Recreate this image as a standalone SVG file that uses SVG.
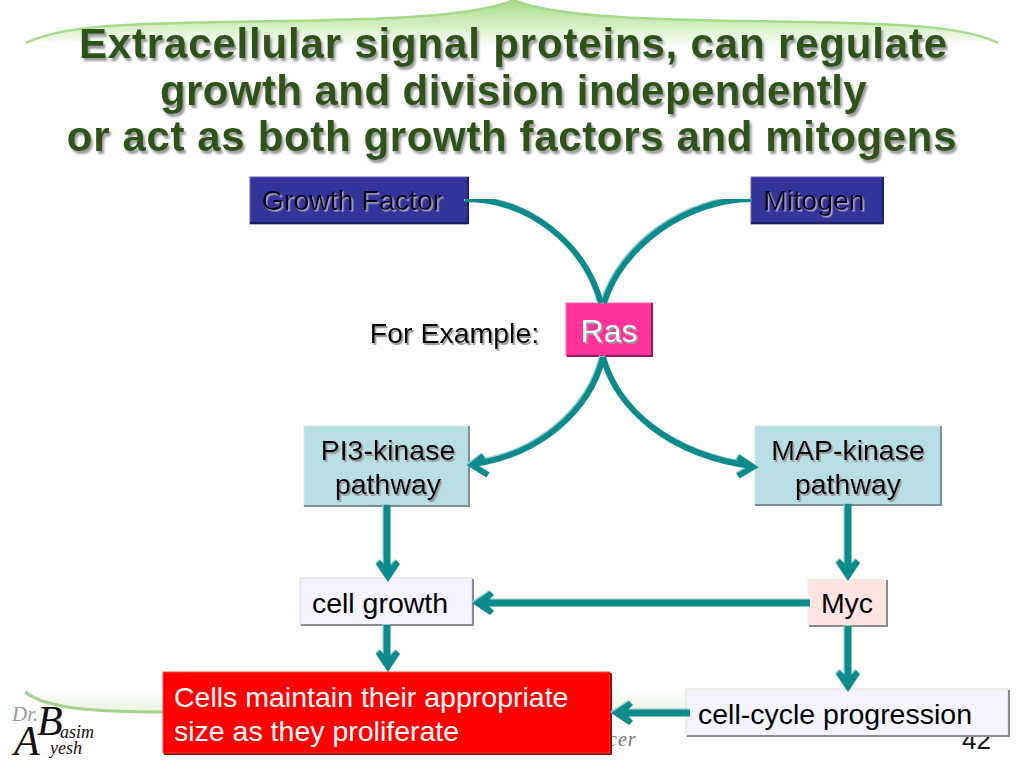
<svg xmlns="http://www.w3.org/2000/svg" width="1024" height="768" viewBox="0 0 1024 768">
<style>
text{font-family:"Liberation Sans",Arial,sans-serif}
.title{font-size:42px;font-weight:bold;fill:#2f5218;text-anchor:middle;filter:url(#ts)}
.lbl{font-size:28.5px;fill:#000;text-anchor:middle}
.sh{filter:url(#ts2)}
.dk{fill:#000018;filter:url(#ts3)}
.c{fill:none;stroke:#0d8a8c;stroke-width:6}
.c2{fill:none;stroke:#0d8a8c;stroke-width:7}
.ah{fill:none;stroke:#0d8a8c;stroke-width:6}
.so{font-family:"Liberation Serif",serif;font-style:italic;fill:#111}
#connectors{filter:url(#cs)}
</style>
<defs>
<filter id="ts" x="-5%" y="-20%" width="110%" height="140%"><feDropShadow dx="2" dy="3" stdDeviation="1" flood-color="#9a9a9a"/></filter>
<filter id="ts2" x="-10%" y="-20%" width="120%" height="140%"><feDropShadow dx="1.5" dy="2" stdDeviation="0.7" flood-color="#999"/></filter>
<filter id="ts3" x="-10%" y="-20%" width="120%" height="140%"><feDropShadow dx="1.5" dy="1.5" stdDeviation="0.3" flood-color="#a8a8c8"/></filter>
<filter id="cs" x="0" y="0" width="100%" height="100%"><feDropShadow dx="-1" dy="-1" stdDeviation="0.5" flood-color="#8fcfd0"/></filter>
<linearGradient id="g1" x1="0" y1="0" x2="0" y2="1"><stop offset="0" stop-color="#a6dc84"/><stop offset="1" stop-color="#ffffff"/></linearGradient>
<linearGradient id="g2" x1="0" y1="0" x2="0" y2="1"><stop offset="0" stop-color="#ffffff"/><stop offset="1" stop-color="#e8f2e2"/></linearGradient>
<path id="head" d="M0 0L-12 -18L-8 -22L0 -14L8 -22L12 -18Z" fill="#0d8a8c"/>
</defs>
<g id="decor">
<path d="M26 43C60 26 120 24 220 22C340 20 470 20 514 0C558 20 690 20 810 22C900 24 965 26 998 43C960 36 880 46 790 48L240 48C140 46 60 36 26 43Z" fill="url(#g1)"/>
<path d="M26 43C60 26 120 24 220 22C340 20 470 20 514 0C558 20 690 20 810 22C900 24 965 26 998 43" fill="none" stroke="#a6d98a" stroke-width="2.5"/>
<path d="M25 692C45 708 90 712 165 712L165 690L25 690Z" fill="url(#g2)"/>
<path d="M25 692C45 708 90 712 165 712" fill="none" stroke="#a8d08e" stroke-width="3"/>
<rect x="610" y="690" width="78" height="22" fill="url(#g2)"/>
<text x="608" y="746" class="so" font-size="20" style="fill:#777;letter-spacing:1px">cer</text>
<text x="526" y="751" class="so" font-size="18" style="fill:#999">g</text>
<text x="962" y="749" font-size="26" fill="#111">42</text>
</g>
<g id="logo">
<text x="12" y="721" class="so" font-size="21" style="fill:#999">Dr.</text>
<text x="37" y="735" class="so" font-size="42">B</text>
<text x="14" y="755" class="so" font-size="42">A</text>
<text x="60" y="738" class="so" font-size="18">asim</text>
<text x="50" y="754" class="so" font-size="18">yesh</text>
</g>
<g id="title">
<text x="513.500" y="58" class="title" style="letter-spacing:.83px">Extracellular signal proteins, can regulate</text>
<text x="513.500" y="105" class="title" style="letter-spacing:.43px">growth and division independently</text>
<text x="512" y="151" class="title" style="letter-spacing:.64px">or act as both growth factors and mitogens</text>
</g>
<g id="growth-factor">
<rect x="250" y="177" width="218" height="47" fill="#333399" stroke="#6a6ab8" stroke-width="1"/>
<path d="M250 223H468V177" fill="none" stroke="#1f1f66" stroke-width="2"/>
<text x="352" y="210" class="lbl dk">Growth Factor</text>
</g>
<g id="mitogen">
<rect x="751" y="177" width="132" height="47" fill="#333399" stroke="#6a6ab8" stroke-width="1"/>
<path d="M751 223H883V177" fill="none" stroke="#1f1f66" stroke-width="2"/>
<text x="814" y="210" class="lbl dk">Mitogen</text>
</g>
<g id="for-example"><text x="454.500" y="343" class="lbl sh">For Example:</text></g>
<g id="ras">
<rect x="566" y="303" width="86" height="53" fill="#ff3399" stroke="#ff66b3" stroke-width="1"/>
<path d="M567 356H652V303" fill="none" stroke="#8f1a5c" stroke-width="2"/>
<text x="609" y="342" class="lbl sh" style="fill:#fff;font-size:32px">Ras</text>
</g>
<g id="pi3">
<rect x="304" y="426" width="165" height="80" fill="#b7dfe3" stroke="#cfe9ec" stroke-width="1"/>
<path d="M304 506H469V426" fill="none" stroke="#7d8f94" stroke-width="2"/>
<text x="388" y="460" class="lbl sh">PI3-kinase</text>
<text x="388" y="494" class="lbl sh">pathway</text>
</g>
<g id="map">
<rect x="755" y="426" width="186" height="79" fill="#b7dfe3" stroke="#cfe9ec" stroke-width="1"/>
<path d="M755 505H941V426" fill="none" stroke="#7d8f94" stroke-width="2"/>
<text x="848" y="460" class="lbl sh">MAP-kinase</text>
<text x="848" y="494" class="lbl sh">pathway</text>
</g>
<g id="cell-growth">
<rect x="300" y="578" width="172" height="47" fill="#f5f3ff" stroke="#ddd" stroke-width="1"/>
<path d="M301 625H473V579" fill="none" stroke="#8a8a92" stroke-width="2"/>
<text x="380" y="613" class="lbl">cell growth</text>
</g>
<g id="myc">
<rect x="808" y="579" width="79" height="47" fill="#fde4e0" stroke="#eee" stroke-width="1"/>
<path d="M809 626H887V580" fill="none" stroke="#8a8a92" stroke-width="2"/>
<text x="847" y="613" class="lbl">Myc</text>
</g>
<g id="cells">
<rect x="163" y="672" width="447" height="81" fill="#ff0000" stroke="#f04a4a" stroke-width="1"/>
<path d="M164 754H611V673" fill="none" stroke="#a80f0f" stroke-width="2"/>
<text x="174" y="707" class="lbl" style="fill:#fff;text-anchor:start">Cells maintain their appropriate</text>
<text x="174" y="741" class="lbl" style="fill:#fff;text-anchor:start">size as they proliferate</text>
</g>
<g id="progression">
<rect x="686" y="689" width="322" height="47" fill="#f5f3ff" stroke="#ddd" stroke-width="1"/>
<path d="M687 736H1009V690" fill="none" stroke="#8a8a92" stroke-width="2"/>
<text x="835" y="724" class="lbl">cell-cycle progression</text>
</g>
<g id="connectors">
<path class="c" d="M465 199C530 199 585 245 601 303"/>
<path class="c" d="M752 199C687 199 622 245 604 303"/>
<path class="c" d="M603 357C590 410 540 455 473 464"/>
<path class="c" d="M603 357C618 410 670 455 752 466"/>
<path class="ah" d="M484 456L472 465L488 475"/>
<path class="ah" d="M738 457L753 467L738 476"/>
<path class="c2" d="M387 505V570"/>
<use href="#head" x="388" y="582"/>
<path class="c2" d="M387 625V660"/>
<use href="#head" x="388" y="672"/>
<path class="c2" d="M848 504V570"/>
<use href="#head" x="848" y="581"/>
<path class="c2" d="M848 626V680"/>
<use href="#head" x="848" y="692"/>
<path class="c2" d="M810 603H485"/>
<use href="#head" transform="translate(472 603) rotate(90)"/>
<path class="c2" d="M690 713H622"/>
<use href="#head" transform="translate(611 713) rotate(90)"/>
</g>
</svg>
